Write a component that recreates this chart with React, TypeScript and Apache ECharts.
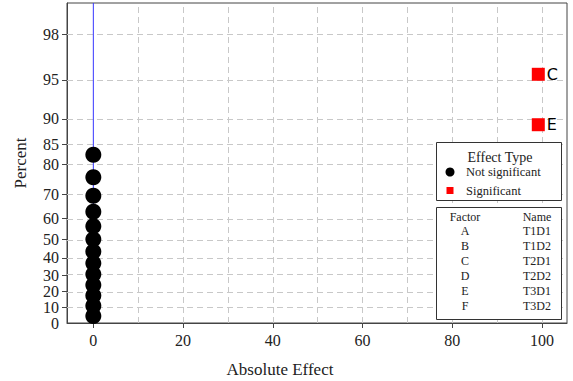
import React, { useEffect, useRef } from "react";
import * as echarts from "echarts";

// ---- data ----
const percentTicks = [0, 10, 20, 30, 40, 50, 60, 70, 80, 85, 90, 95, 98];
const effectTicks = [0, 20, 40, 60, 80, 100];
const effectGridValues = [10, 20, 30, 40, 50, 60, 70, 80, 90, 100];
const notSigEffects = [0, 0, 0, 0, 0, 0, 0, 0, 0, 0, 0, 0, 0];
const notSigPercents = [4.5, 11.0, 17.5, 24.0, 30.5, 37.0, 43.5, 50.0, 56.5, 63.0, 69.5, 76.0, 82.5];
const sigNames = ["C", "E"];
const sigEffects = [99.2, 99.2];
const sigPercents = [95.5, 89.0];
const fitEffects = [0, 0];
const fitPercents = [0, 99.01];
const factorLetters = ["A", "B", "C", "D", "E", "F"];
const factorNames = ["T1D1", "T1D2", "T2D1", "T2D2", "T3D1", "T3D2"];
const xMin = -5.87;
const xMax = 105.6;
const yTopPercent = 99.01;

// inverse standard normal CDF (Acklam)
function normInv(p: number): number {
  const a = [-3.969683028665376e1, 2.209460984245205e2, -2.759285104469687e2, 1.38357751867269e2, -3.066479806614716e1, 2.506628277459239];
  const b = [-5.447609879822406e1, 1.615858368580409e2, -1.556989798598866e2, 6.680131188771972e1, -1.328068155288572e1];
  const c = [-7.784894002430293e-3, -3.223964580411365e-1, -2.400758277161838, -2.549732539343734, 4.374664141464968, 2.938163982698783];
  const d = [7.784695709041462e-3, 3.224671290700398e-1, 2.445134137142996, 3.754408661907416];
  const plow = 0.02425;
  const phigh = 1 - plow;
  if (p < plow) {
    const q = Math.sqrt(-2 * Math.log(p));
    return (((((c[0] * q + c[1]) * q + c[2]) * q + c[3]) * q + c[4]) * q + c[5]) / ((((d[0] * q + d[1]) * q + d[2]) * q + d[3]) * q + 1);
  }
  if (p <= phigh) {
    const q = p - 0.5;
    const r = q * q;
    return ((((((a[0] * r + a[1]) * r + a[2]) * r + a[3]) * r + a[4]) * r + a[5]) * q) / (((((b[0] * r + b[1]) * r + b[2]) * r + b[3]) * r + b[4]) * r + 1);
  }
  const q = Math.sqrt(-2 * Math.log(1 - p));
  return -(((((c[0] * q + c[1]) * q + c[2]) * q + c[3]) * q + c[4]) * q + c[5]) / ((((d[0] * q + d[1]) * q + d[2]) * q + d[3]) * q + 1);
}
// half-normal probability scale
const halfZ = (pct: number) => (pct <= 0 ? 0 : normInv(0.5 + pct / 200));

const SERIF = '"Liberation Serif", "Times New Roman", serif';
const TXT = "#222";

export default function App() {
  const ref = useRef<HTMLDivElement>(null);
  useEffect(() => {
    if (!ref.current) return;
    const chart = echarts.init(ref.current, null, { renderer: "svg" });
    const yTickZ = percentTicks.map(halfZ);
    const yTickZUpper = percentTicks.filter((p) => p > 0).map(halfZ);
    const yTickZLower = percentTicks.filter((p) => p <= 0).map(halfZ);
    const labelFor = (v: number) => {
      for (let i = 0; i < yTickZ.length; i++) {
        if (Math.abs(yTickZ[i] - v) < 1e-6) return String(percentTicks[i]);
      }
      return "";
    };
    const yLabelStyle = { fontFamily: SERIF, fontSize: 16, color: TXT, margin: 8 };
    const graphics: any[] = [
      {
        type: "rect",
        z: 100,
        shape: { x: 436.5, y: 142.5, width: 125, height: 58 },
        style: { fill: "#fff", stroke: "#333", lineWidth: 1 },
      },
      {
        type: "text",
        z: 101,
        x: 500,
        y: 157,
        style: { text: "Effect Type", align: "center", verticalAlign: "middle", font: `14px ${SERIF}`, fill: TXT },
      },
      { type: "circle", z: 101, shape: { cx: 450, cy: 172, r: 4.5 }, style: { fill: "#000" } },
      {
        type: "text",
        z: 101,
        x: 466,
        y: 172,
        style: { text: "Not significant", align: "left", verticalAlign: "middle", font: `12.5px ${SERIF}`, fill: TXT },
      },
      { type: "rect", z: 101, shape: { x: 446.5, y: 187, width: 7, height: 7 }, style: { fill: "#ff0000" } },
      {
        type: "text",
        z: 101,
        x: 466,
        y: 191,
        style: { text: "Significant", align: "left", verticalAlign: "middle", font: `12.5px ${SERIF}`, fill: TXT },
      },
      {
        type: "rect",
        z: 100,
        shape: { x: 436.5, y: 207.5, width: 125, height: 112 },
        style: { fill: "#fff", stroke: "#333", lineWidth: 1 },
      },
      {
        type: "text",
        z: 101,
        x: 465,
        y: 217,
        style: { text: "Factor", align: "center", verticalAlign: "middle", font: `12px ${SERIF}`, fill: TXT },
      },
      {
        type: "text",
        z: 101,
        x: 537,
        y: 217,
        style: { text: "Name", align: "center", verticalAlign: "middle", font: `12px ${SERIF}`, fill: TXT },
      },
      {
        type: "text",
        x: 280,
        y: 369,
        style: { text: "Absolute Effect", align: "center", verticalAlign: "middle", font: `17px ${SERIF}`, fill: TXT },
      },
    ];
    factorLetters.forEach((f, i) => {
      graphics.push({
        type: "text",
        z: 101,
        x: 465,
        y: 231 + 15 * i,
        style: { text: f, align: "center", verticalAlign: "middle", font: `12px ${SERIF}`, fill: TXT },
      });
      graphics.push({
        type: "text",
        z: 101,
        x: 537,
        y: 231 + 15 * i,
        style: { text: factorNames[i], align: "center", verticalAlign: "middle", font: `12px ${SERIF}`, fill: TXT },
      });
    });

    chart.setOption({
      animation: false,
      backgroundColor: "#fff",
      grid: {
        left: 67,
        right: 6,
        top: 3,
        bottom: 58,
        show: true,
        borderColor: "#444",
        borderWidth: 1,
        containLabel: false,
        outerBoundsMode: "none",
      },
      xAxis: {
        type: "value",
        min: xMin,
        max: xMax,
        axisLine: { show: true, onZero: false, lineStyle: { color: "#444" } },
        axisTick: { show: true, length: 5, customValues: effectTicks, lineStyle: { color: "#444" } },
        axisLabel: { customValues: effectTicks, fontFamily: SERIF, fontSize: 16, color: TXT, margin: 9 },
        splitLine: { show: false },
      },
      yAxis: [
        {
          type: "value",
          min: 0,
          max: halfZ(yTopPercent),
          position: "left",
          name: "Percent",
          nameLocation: "middle",
          nameRotate: 90,
          nameGap: 38,
          nameTextStyle: { fontFamily: SERIF, fontSize: 17, color: TXT },
          axisLine: { show: true, onZero: false, lineStyle: { color: "#444" } },
          axisTick: { show: true, length: 5, customValues: yTickZUpper, lineStyle: { color: "#444" } },
          axisLabel: { customValues: yTickZUpper, formatter: (v: number) => labelFor(v), ...yLabelStyle },
          splitLine: { show: false },
        },
        {
          type: "value",
          min: 0,
          max: halfZ(yTopPercent),
          position: "left",
          offset: 0,
          axisLine: { show: false },
          axisTick: { show: true, length: 5, customValues: yTickZLower, lineStyle: { color: "#444" } },
          axisLabel: { customValues: yTickZLower, showMinLabel: true, formatter: (v: number) => labelFor(v), ...yLabelStyle },
          splitLine: { show: false },
        },
      ],
      graphic: graphics,
      series: [
        {
          type: "scatter",
          name: "gridlines",
          data: [],
          silent: true,
          z: 1,
          markLine: {
            silent: true,
            z: 1,
            symbol: ["none", "none"],
            label: { show: false },
            lineStyle: { color: "#c8c8c8", type: [6, 4], width: 1 },
            data: [
              ...effectGridValues.map((x) => ({ xAxis: x })),
              ...percentTicks.filter((p) => p > 0).map((p) => ({ yAxis: halfZ(p) })),
            ],
          },
        },
        {
          type: "line",
          name: "fit",
          data: fitEffects.map((x, i) => [x, halfZ(fitPercents[i])]),
          symbol: "none",
          lineStyle: { color: "#3535ff", width: 1 },
          silent: true,
          z: 2,
        },
        {
          type: "scatter",
          name: "Not significant",
          data: notSigEffects.map((x, i) => [x, halfZ(notSigPercents[i])]),
          symbol: "circle",
          symbolSize: 16,
          itemStyle: { color: "#000", opacity: 1 },
          z: 3,
        },
        {
          type: "scatter",
          name: "Significant",
          data: sigEffects.map((x, i) => ({ value: [x, halfZ(sigPercents[i])], name: sigNames[i] })),
          symbol: "rect",
          symbolSize: 13,
          itemStyle: { color: "#ff0000", opacity: 1 },
          label: {
            show: true,
            position: "right",
            distance: 2,
            formatter: (p: any) => p.name,
            fontFamily: '"DejaVu Sans", sans-serif',
            fontSize: 16,
            color: "#000",
          },
          z: 3,
        },
      ],
    });
    return () => chart.dispose();
  }, []);
  return <div ref={ref} style={{ position: "fixed", left: 0, top: 0, width: 573, height: 381 }} />;
}
